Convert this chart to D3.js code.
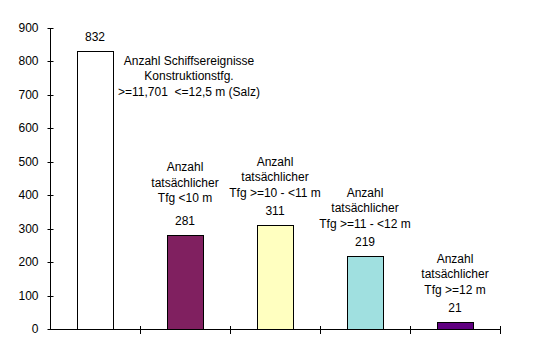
<!DOCTYPE html>
<html>
<head>
<meta charset="utf-8">
<script src="https://cdn.jsdelivr.net/npm/d3@7"></script>
<style>
  html, body { margin: 0; padding: 0; background: #fff; }
  svg { display: block; }
  text { font-family: "Liberation Sans", Arial, sans-serif; font-size: 12px; fill: #000; white-space: pre; }
</style>
</head>
<body>
<svg id="chart" width="553" height="356"></svg>
<script>
// ---- data ----
const categories = ["Schiffsereignisse", "Tfg <10 m", "Tfg >=10 - <11 m", "Tfg >=11 - <12 m", "Tfg >=12 m"];
const values = [832, 281, 311, 219, 21];
const barColors = ["#FFFFFF", "#802060", "#FFFFC0", "#A0E0E0", "#600080"];
const annotations = [
  ["Anzahl Schiffsereignisse", "Konstruktionstfg.", ">=11,701  <=12,5 m (Salz)"],
  ["Anzahl", "tatsächlicher", "Tfg <10 m"],
  ["Anzahl", "tatsächlicher", "Tfg >=10 - <11 m"],
  ["Anzahl", "tatsächlicher", "Tfg >=11 - <12 m"],
  ["Anzahl", "tatsächlicher", "Tfg >=12 m"]
];
const yTicks = [0, 100, 200, 300, 400, 500, 600, 700, 800, 900];

// ---- layout ----
const svg = d3.select("#chart");
const mLeft = 50, mRight = 500, mTop = 28, mBottom = 329;
const annotShift = [0, -5, 0, 0, 0]; // small manual nudges of free text boxes

const x = d3.scaleBand().domain(categories).range([mLeft, mRight]).paddingInner(0.6).paddingOuter(0.3);
const y = d3.scaleLinear().domain([0, 900]).range([mBottom, mTop]);

// bars
svg.append("g").selectAll("rect").data(values).join("rect")
  .attr("x", (d, i) => Math.round(x(categories[i])) + 0.5)
  .attr("y", d => Math.round(y(d)) + 0.5)
  .attr("width", Math.round(x.bandwidth()))
  .attr("height", d => Math.round(y(0)) - Math.round(y(d)))
  .attr("fill", (d, i) => barColors[i])
  .attr("stroke", "#000")
  .attr("stroke-width", 1);

// y axis
const yAxis = svg.append("g")
  .attr("transform", `translate(${mLeft + 0.5},0)`)
  .call(d3.axisLeft(y).tickValues(yTicks).tickSize(3).tickPadding(9).tickFormat(d3.format("d")));
yAxis.select(".domain").attr("d", `M0,${mTop}V${mBottom}`).attr("stroke", "#000");
yAxis.selectAll(".tick line").attr("x1", -3).attr("x2", 3).attr("stroke", "#000");
yAxis.selectAll(".tick").attr("transform", d => `translate(0,${Math.round(y(d)) + 0.5})`);
yAxis.selectAll(".tick text").attr("font-size", 12).attr("font-family", "Liberation Sans, Arial, sans-serif").attr("fill", "#000");

// x axis (boundaries between categories)
const bounds = d3.range(categories.length + 1).map(i => mLeft + i * x.step());
const xg = svg.append("g");
xg.append("line")
  .attr("x1", mLeft).attr("x2", mRight + 1)
  .attr("y1", Math.round(y(0)) + 0.5).attr("y2", Math.round(y(0)) + 0.5)
  .attr("stroke", "#000");
xg.selectAll("line.tk").data(bounds.slice(1)).join("line").attr("class", "tk")
  .attr("x1", d => Math.round(d) + 0.5).attr("x2", d => Math.round(d) + 0.5)
  .attr("y1", Math.round(y(0)) - 3).attr("y2", Math.round(y(0)) + 5)
  .attr("stroke", "#000");

// value labels
svg.append("g").selectAll("text").data(values).join("text")
  .attr("x", (d, i) => x(categories[i]) + x.bandwidth() / 2)
  .attr("y", d => y(d) - 10)
  .attr("text-anchor", "middle")
  .text(d => d);

// annotations
const lineH = 15.5;
annotations.forEach((lines, i) => {
  let cx, baseY;
  if (i === 0) {
    cx = x(categories[1]) + x.bandwidth() / 2 + 4;
    baseY = y(values[0]) + 14;
  } else {
    cx = x(categories[i]) + x.bandwidth() / 2;
    baseY = y(values[i]) - 11 - 17 - lineH * (lines.length - 1) + annotShift[i];
  }
  const t = svg.append("text").attr("text-anchor", "middle");
  lines.forEach((s, j) => {
    t.append("tspan").attr("x", cx).attr("y", baseY + j * lineH).text(s);
  });
});
</script>
</body>
</html>
